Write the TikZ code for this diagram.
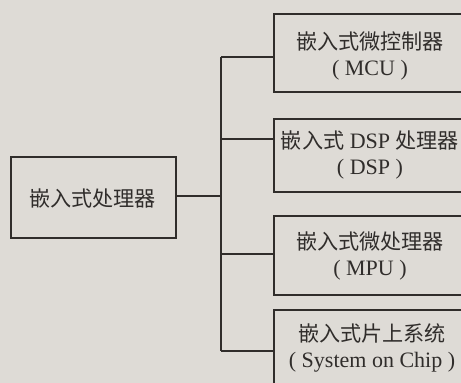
\documentclass[tikz,border=0pt]{standalone}
\usepackage{fontspec}
\setmainfont{Liberation Serif}
\newfontfamily\cjk{Noto Sans CJK SC}[Scale=0.96]
\definecolor{bg}{RGB}{222,219,214}
\definecolor{ink}{RGB}{48,45,43}
\begin{document}
\begin{tikzpicture}[x=1pt,y=-1pt,
  box/.style={draw=ink, line width=1.6pt, inner sep=0pt, anchor=north west},
  lbl/.style={text=ink, align=center, inner sep=0pt, font=\fontsize{22}{25.5}\selectfont},
  wire/.style={draw=ink, line width=1.6pt}]
\fill[bg] (0,0) rectangle (461,383);
\useasboundingbox (0,0) rectangle (461,383);
% left box
\node[box, minimum width=165pt, minimum height=81pt] (root) at (10,156) {};
\node[lbl] (roott) at (92.5,198) {\cjk 嵌入式处理器};
% right boxes (cut off at the right edge)
\node[box, minimum width=240pt, minimum height=78pt] (mcu) at (273,13) {};
\node[box, minimum width=240pt, minimum height=73pt] (dsp) at (273,118) {};
\node[box, minimum width=240pt, minimum height=79pt] (mpu) at (273,215) {};
\node[box, minimum width=240pt, minimum height=90pt] (soc) at (273,309) {};
\node[lbl] (mcut) at (370,56) {{\cjk 嵌入式微控制器}\\( MCU )};
\node[lbl] (dspt) at (370,155) {{\cjk 嵌入式} DSP {\cjk 处理器}\\( DSP )};
\node[lbl] (mput) at (370,256) {{\cjk 嵌入式微处理器}\\( MPU )};
\node[lbl] (soct) at (372,348) {{\cjk 嵌入式片上系统}\\( System on Chip )};
% trunk coordinates
\coordinate (j0) at (221,196);
\coordinate (j1) at (221,57);
\coordinate (j2) at (221,139);
\coordinate (j3) at (221,254);
\coordinate (j4) at (221,351);
\draw[wire] (root.east |- j0) -- (j0);
\draw[wire] (j1) -- (j4);
\draw[wire] (j1) -- (j1 -| mcu.west);
\draw[wire] (j2) -- (j2 -| dsp.west);
\draw[wire] (j3) -- (j3 -| mpu.west);
\draw[wire] (j4) -- (j4 -| soc.west);
\end{tikzpicture}
\end{document}
